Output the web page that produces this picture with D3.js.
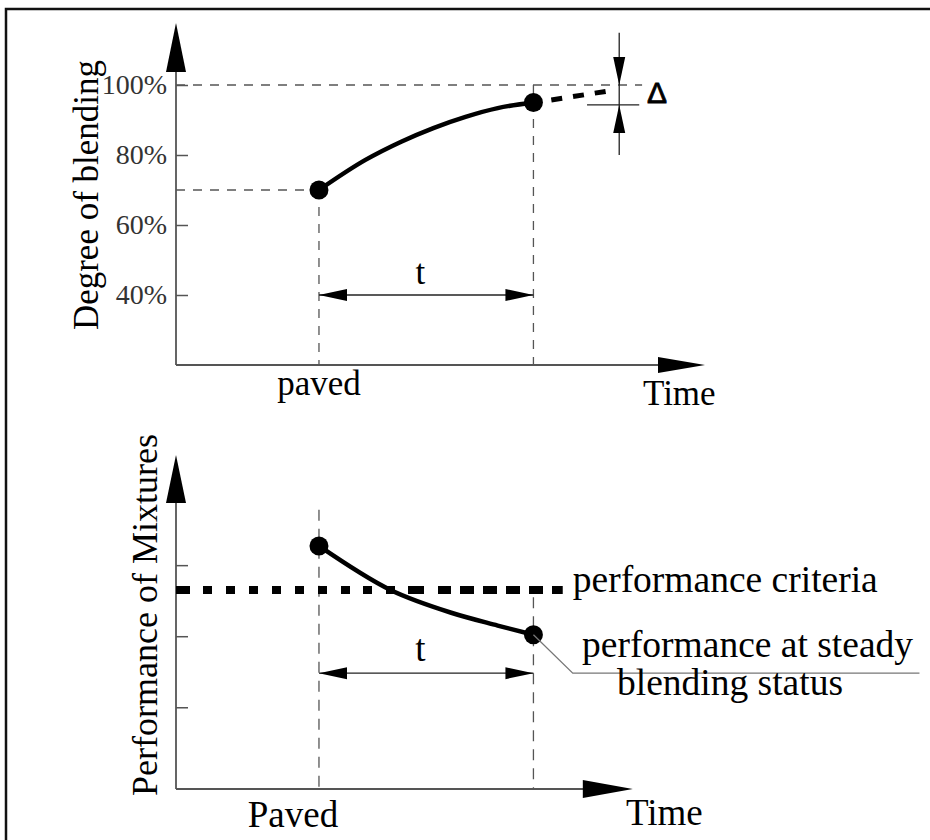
<!DOCTYPE html>
<html><head><meta charset="utf-8">
<script src="https://cdn.jsdelivr.net/npm/d3@7"></script>
<style>body{margin:0;background:#fff} svg{display:block}</style>
</head><body>
<script>
// ---------------- data ----------------
const blendTicks = [40, 60, 80, 100];
const blendTickLabels = ["40%", "60%", "80%", "100%"];
const blendTimes = [2, 2.65, 3.15, 3.6, 4.05, 4.5, 5];
const blendValues = [70, 78.6, 83.8, 87.7, 90.9, 93.4, 95];
const blendKeyTimes = [2, 5];
const blendKeyValues = [70, 95];
const extTimes = [5.25, 6.05];
const extValues = [95.7, 98.3];
const deltaLevels = [100, 94.3];
const perfTicks = [1, 2, 3];
const perfTimes = [2, 3, 3.85, 4.5, 5];
const perfValues = [3.27, 2.65, 2.33, 2.15, 2.02];
const perfKeyTimes = [2, 5];
const perfKeyValues = [3.27, 2.02];
const criteriaValue = 2.65;
const xLabelsTop = ["paved", "Time"];
const xLabelsBottom = ["Paved", "Time"];
const yTitles = ["Degree of blending", "Performance of Mixtures"];
const intervalLabel = "t";
const deltaLabel = "Δ";
const annotations = ["performance criteria", "performance at steady", "blending status"];

// ---------------- layout ----------------
const W = 930, H = 840;
const SERIF = "'Liberation Serif', 'Times New Roman', serif";
const AX = "#555";
const svg = d3.select("body").append("svg").attr("width", W).attr("height", H);

svg.append("rect").attr("x", 6).attr("y", 9).attr("width", 940).attr("height", 850)
  .attr("fill", "none").attr("stroke", "#111").attr("stroke-width", 2.5);

const x = d3.scaleLinear().domain([0, 7.4]).range([176, 705]);
const yTop = d3.scaleLinear().domain([20, 100]).range([365, 85]);
const yBot = d3.scaleLinear().domain([-0.15, 4.55]).range([789, 455]);

function head(tx, ty, dir, len, half) {
  let p;
  if (dir === "up") p = [[tx, ty], [tx - half, ty + len], [tx + half, ty + len]];
  else if (dir === "down") p = [[tx, ty], [tx - half, ty - len], [tx + half, ty - len]];
  else if (dir === "left") p = [[tx, ty], [tx + len, ty - half], [tx + len, ty + half]];
  else p = [[tx, ty], [tx - len, ty - half], [tx - len, ty + half]];
  return "M" + p.map(d => d.join(",")).join("L") + "Z";
}
function seg(g, x1, y1, x2, y2, opts) {
  const l = g.append("line").attr("x1", x1).attr("y1", y1).attr("x2", x2).attr("y2", y2)
    .attr("stroke", opts.c || AX).attr("stroke-width", opts.w || 1.5);
  if (opts.dash) l.attr("stroke-dasharray", opts.dash);
  return l;
}
const zip = (a, b) => a.map((t, i) => ({t, v: b[i]}));

// ================= TOP CHART =================
const gT = svg.append("g");
seg(gT, x(0), yTop(100), x(6.52), yTop(100), {dash: "9,8", w: 1.3});
seg(gT, x(0), yTop(70), x(2), yTop(70), {dash: "9,8", w: 1.3});
seg(gT, x(2), yTop(70), x(2), yTop(20), {dash: "9,8", w: 1.3});
seg(gT, x(5), yTop(100), x(5), yTop(20), {dash: "9,8", w: 1.3});

seg(gT, x(0), yTop(20), x(7.4) - 40, yTop(20), {w: 1.8});
seg(gT, x(0), yTop(20), x(0), yTop(117.7) + 40, {w: 1.8});
gT.append("path").attr("d", head(x(7.4), yTop(20), "right", 47, 8)).attr("fill", "#000");
gT.append("path").attr("d", head(x(0), yTop(117.7), "up", 49, 10)).attr("fill", "#000");

const axT = gT.append("g").attr("transform", `translate(${x(0)},0)`)
  .call(d3.axisLeft(yTop).tickValues(blendTicks).tickFormat((d, i) => blendTickLabels[i])
    .tickSizeInner(-12).tickSizeOuter(0).tickPadding(9));
axT.select(".domain").remove();
axT.selectAll(".tick line").attr("stroke", AX).attr("stroke-width", 1.5);
axT.selectAll(".tick text").attr("font-family", SERIF).attr("font-size", 28).attr("fill", "#333");

const lineT = d3.line().x(d => x(d.t)).y(d => yTop(d.v)).curve(d3.curveMonotoneX);
gT.append("path").attr("d", lineT(zip(blendTimes, blendValues)))
  .attr("fill", "none").attr("stroke", "#000").attr("stroke-width", 4.5).attr("stroke-linecap", "round");
gT.append("path").attr("d", d3.line().x(d => x(d.t)).y(d => yTop(d.v))(zip(extTimes, extValues)))
  .attr("fill", "none").attr("stroke", "#000").attr("stroke-width", 5).attr("stroke-dasharray", "11,11");
gT.selectAll("circle.k").data(zip(blendKeyTimes, blendKeyValues)).join("circle")
  .attr("cx", d => x(d.t)).attr("cy", d => yTop(d.v)).attr("r", 9.5).attr("fill", "#000");

// delta marker
const dx = x(6.2);
seg(gT, dx, yTop(114.9), dx, yTop(80), {c: "#222", w: 1.3});
seg(gT, x(5.75), yTop(deltaLevels[1]), x(6.48), yTop(deltaLevels[1]), {c: "#222", w: 1.3});
gT.append("path").attr("d", head(dx, yTop(deltaLevels[0]), "down", 28, 6)).attr("fill", "#000");
gT.append("path").attr("d", head(dx, yTop(deltaLevels[1]), "up", 28, 6)).attr("fill", "#000");
gT.append("text").attr("x", x(6.73)).attr("y", yTop(deltaLevels[1]) - 2).attr("text-anchor", "middle")
  .attr("font-family", "'Liberation Sans', Arial, sans-serif").attr("font-size", 30)
  .attr("stroke", "#000").attr("stroke-width", 0.8).text(deltaLabel);

// t interval
seg(gT, x(2), yTop(40), x(5), yTop(40), {c: "#222", w: 1.3});
gT.append("path").attr("d", head(x(2), yTop(40), "left", 28, 6)).attr("fill", "#000");
gT.append("path").attr("d", head(x(5), yTop(40), "right", 28, 6)).attr("fill", "#000");
gT.append("text").attr("x", x(3.42)).attr("y", yTop(40) - 11).attr("text-anchor", "middle")
  .attr("font-family", SERIF).attr("font-size", 35).text(intervalLabel);

gT.append("text").attr("x", x(2)).attr("y", 395).attr("text-anchor", "middle")
  .attr("font-family", SERIF).attr("font-size", 35).text(xLabelsTop[0]);
gT.append("text").attr("x", 643).attr("y", 405)
  .attr("font-family", SERIF).attr("font-size", 35).text(xLabelsTop[1]);
gT.append("text").attr("transform", "translate(98,195) rotate(-90)").attr("text-anchor", "middle")
  .attr("font-family", SERIF).attr("font-size", 35).text(yTitles[0]);

// ================= BOTTOM CHART =================
const gB = svg.append("g");
seg(gB, x(2), yBot(3.78), x(2), yBot(-0.15), {dash: "11,8", w: 1.3});
seg(gB, x(5), yBot(2.55), x(5), yBot(-0.15), {dash: "11,8", w: 1.3});

seg(gB, x(0), yBot(-0.15), x(6.39) - 40, yBot(-0.15), {w: 1.8});
seg(gB, x(0), yBot(-0.15), x(0), yBot(4.55) + 40, {w: 1.8});
gB.append("path").attr("d", head(x(6.39), yBot(-0.15), "right", 50, 9)).attr("fill", "#000");
gB.append("path").attr("d", head(x(0), yBot(4.55), "up", 48, 10)).attr("fill", "#000");

const axB = gB.append("g").attr("transform", `translate(${x(0)},0)`)
  .call(d3.axisLeft(yBot).tickValues(perfTicks).tickFormat("")
    .tickSizeInner(-12).tickSizeOuter(0));
axB.select(".domain").remove();
axB.selectAll(".tick line").attr("stroke", AX).attr("stroke-width", 1.5);

seg(gB, x(0), yBot(criteriaValue), x(5.41), yBot(criteriaValue), {c: "#000", w: 8, dash: "14,13,9,14,9,14,9,14,9,14,9,14,9,14,9,13,9,14,9,13,16"});

const lineB = d3.line().x(d => x(d.t)).y(d => yBot(d.v)).curve(d3.curveMonotoneX);
gB.append("path").attr("d", lineB(zip(perfTimes, perfValues)))
  .attr("fill", "none").attr("stroke", "#000").attr("stroke-width", 4.5).attr("stroke-linecap", "round");
gB.selectAll("circle.k").data(zip(perfKeyTimes, perfKeyValues)).join("circle")
  .attr("cx", d => x(d.t)).attr("cy", d => yBot(d.v)).attr("r", 9.5).attr("fill", "#000");

const tY = yBot(1.48);
seg(gB, x(2), tY, x(5), tY, {c: "#222", w: 1.3});
gB.append("path").attr("d", head(x(2), tY, "left", 28, 6)).attr("fill", "#000");
gB.append("path").attr("d", head(x(5), tY, "right", 28, 6)).attr("fill", "#000");
gB.append("text").attr("x", x(3.42)).attr("y", tY - 12).attr("text-anchor", "middle")
  .attr("font-family", SERIF).attr("font-size", 37).text(intervalLabel);

gB.append("path").attr("d", d3.line().x(d => x(d.t)).y(d => yBot(d.v))([
  {t: perfKeyTimes[1], v: perfKeyValues[1]}, {t: 5.55, v: 1.48}, {t: 10.4, v: 1.48}]))
  .attr("fill", "none").attr("stroke", "#777").attr("stroke-width", 1.3);

gB.append("text").attr("x", x(5.55)).attr("y", yBot(criteriaValue) + 2)
  .attr("font-family", SERIF).attr("font-size", 37.5).text(annotations[0]);
gB.append("text").attr("x", 582).attr("y", tY - 16)
  .attr("font-family", SERIF).attr("font-size", 37.5).text(annotations[1]);
gB.append("text").attr("x", 617).attr("y", tY + 22)
  .attr("font-family", SERIF).attr("font-size", 37.5).text(annotations[2]);

gB.append("text").attr("x", 293).attr("y", 827).attr("text-anchor", "middle")
  .attr("font-family", SERIF).attr("font-size", 37).text(xLabelsBottom[0]);
gB.append("text").attr("x", 626).attr("y", 825)
  .attr("font-family", SERIF).attr("font-size", 37).text(xLabelsBottom[1]);
gB.append("text").attr("transform", "translate(157,615) rotate(-90)").attr("text-anchor", "middle")
  .attr("font-family", SERIF).attr("font-size", 36).text(yTitles[1]);
</script>
</body></html>
